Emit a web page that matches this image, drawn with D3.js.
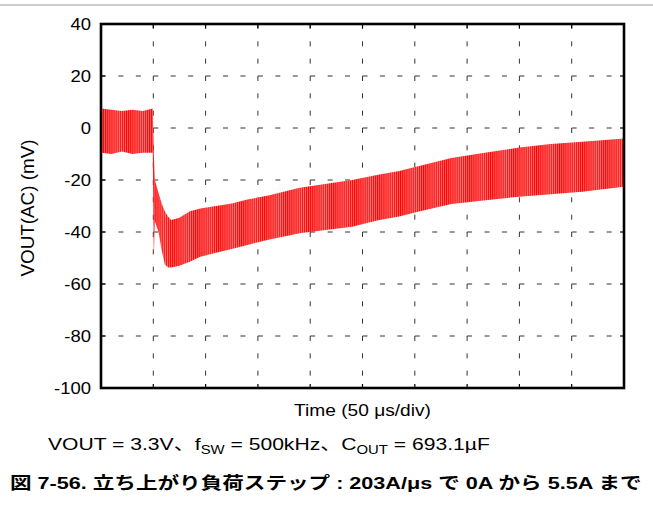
<!DOCTYPE html>
<html>
<head>
<meta charset="utf-8">
<script src="https://cdn.jsdelivr.net/npm/d3@7"></script>
<style>
  html, body { margin: 0; padding: 0; background: #fff; }
  svg { display: block; }
  text { font-family: "Liberation Sans", Arial, "Noto Sans CJK JP", sans-serif; fill: #000; }
</style>
</head>
<body>
<svg id="chart" width="653" height="508"></svg>
<script>
// ---- data ----
// time in microseconds (50 us/div, 10 divisions)
const timeUs = [0, 10, 20, 30, 40, 49.5, 50.5, 51.5, 55, 58, 61, 64, 67, 75, 85, 95, 110, 125, 140, 160, 190, 240, 265, 285, 305, 335, 370, 400, 430, 460, 500];
// upper envelope of the ripple (mV)
const upperMv = [7.5, 7, 6.5, 7, 6.5, 7.5, -10, -20, -25, -29, -32, -34, -35.4, -34.5, -32, -31, -30, -29, -27.5, -26, -23, -20, -18, -16.5, -14.5, -11.5, -9.3, -7.5, -6.2, -5.3, -4];
// lower envelope of the ripple (mV)
const lowerMv = [-9.5, -10, -9, -10, -9.5, -9.5, -50, -36, -40, -47, -52.5, -53.7, -53.7, -53, -51.4, -49.5, -48, -46.5, -45, -43, -40.5, -38, -35.5, -34, -32, -29.2, -27.7, -26.4, -25.5, -24.5, -22.6];
const switchPeriodUs = 2; // 500 kHz
const yTickValues = [40, 20, 0, -20, -40, -60, -80, -100];
const yTickLabels = ["40", "20", "0", "-20", "-40", "-60", "-80", "-100"];
const xTickValues = [0, 50, 100, 150, 200, 250, 300, 350, 400, 450, 500];
const yTitle = "VOUT(AC) (mV)";
const xTitle = "Time (50 \u03bcs/div)";
const figTitle = "図 7-56. 立ち上がり負荷ステップ : 203A/μs で 0A から 5.5A まで";

// ---- layout ----
const svg = d3.select("#chart");
const L = 101, R = 624, T = 24, B = 388;
const x = d3.scaleLinear().domain([0, 500]).range([L, R]);
const y = d3.scaleLinear().domain([-100, 40]).range([B, T]);

// top page rule
svg.append("line").attr("x1", 0).attr("x2", 653).attr("y1", 5).attr("y2", 5)
  .attr("stroke", "#9a9a9a").attr("stroke-width", 1.2);

// ripple pattern
const period = x(switchPeriodUs) - x(0);
const defs = svg.append("defs");
const pat = defs.append("pattern").attr("id", "ripple").attr("patternUnits", "userSpaceOnUse")
  .attr("x", L).attr("y", 0).attr("width", period).attr("height", 20);
pat.append("rect").attr("width", period).attr("height", 20).attr("fill", "#ff7878");
pat.append("rect").attr("width", period * 0.5).attr("height", 20).attr("fill", "#ff0000");
defs.append("clipPath").attr("id", "plotclip").append("rect")
  .attr("x", L).attr("y", T).attr("width", R - L).attr("height", B - T);

// grid
const grid = svg.append("g").attr("stroke", "#333").attr("stroke-width", 1);
const yGridVals = yTickValues.filter(v => v !== 40 && v !== -100);
grid.selectAll("line.h").data(yGridVals).join("line").attr("class", "h")
  .attr("x1", L).attr("x2", R).attr("y1", d => y(d)).attr("y2", d => y(d))
  .attr("stroke-dasharray", `5,${(x(50) - x(0)) / 3 - 5}`);
const xGridVals = xTickValues.filter(v => v !== 0 && v !== 500);
grid.selectAll("line.v").data(xGridVals).join("line").attr("class", "v")
  .attr("x1", d => x(d)).attr("x2", d => x(d)).attr("y1", T).attr("y2", B)
  .attr("stroke-dasharray", `5,${(y(20) - y(40)) / 3 - 5}`);

// inner ticks on frame
const tk = svg.append("g").attr("stroke", "#000").attr("stroke-width", 1.2);
tk.selectAll("line.bt").data(xTickValues).join("line")
  .attr("x1", d => x(d)).attr("x2", d => x(d)).attr("y1", B).attr("y2", B - 4);
tk.selectAll("line.tt").data(xTickValues).join("line")
  .attr("x1", d => x(d)).attr("x2", d => x(d)).attr("y1", T).attr("y2", T + 4);
tk.selectAll("line.lt").data(yTickValues).join("line")
  .attr("x1", L).attr("x2", L + 4).attr("y1", d => y(d)).attr("y2", d => y(d));
tk.selectAll("line.rt").data(yTickValues).join("line")
  .attr("x1", R).attr("x2", R - 4).attr("y1", d => y(d)).attr("y2", d => y(d));

// waveform band
const rows = timeUs.map((t, i) => ({ t, hi: upperMv[i], lo: lowerMv[i] }));
const area = d3.area().x(d => x(d.t)).y0(d => y(d.lo)).y1(d => y(d.hi));
svg.append("path").datum(rows).attr("d", area)
  .attr("fill", "url(#ripple)").attr("clip-path", "url(#plotclip)");

// frame
svg.append("rect").attr("x", L).attr("y", T).attr("width", R - L).attr("height", B - T)
  .attr("fill", "none").attr("stroke", "#000").attr("stroke-width", 2.6);

// y tick labels
const lab = svg.append("g");
lab.selectAll("g").data(yTickValues).join("g")
  .attr("transform", d => `translate(91,${y(d) + 6}) scale(1.12,1)`)
  .append("text").attr("text-anchor", "end").attr("font-size", 16.5)
  .text((d, i) => yTickLabels[i]);

// helper: stretch text horizontally to a target width
function fit(textSel, target) {
  const w = textSel.node().getComputedTextLength();
  return target / w;
}

// y title
const yt = svg.append("text").attr("font-size", 18).attr("text-anchor", "middle")
  .attr("transform", "translate(34,208) rotate(-90)").text(yTitle);
const ys = fit(yt, 137);
yt.attr("transform", `translate(34,208) rotate(-90) scale(${ys},1)`);

// x title
const xtG = svg.append("g");
const xt = xtG.append("text").attr("font-size", 16.5).attr("text-anchor", "middle").text(xTitle);
xtG.attr("transform", `translate(${(L + R) / 2},416) scale(${fit(xt, 137)},1)`);

// condition line
const cG = svg.append("g");
const ct = cG.append("text").attr("font-size", 17);
ct.append("tspan").text("VOUT = 3.3V\u3001f");
ct.append("tspan").attr("font-size", 12).attr("dy", 4).text("SW");
ct.append("tspan").attr("dy", -4).text(" = 500kHz\u3001C");
ct.append("tspan").attr("font-size", 12).attr("dy", 4).text("OUT");
ct.append("tspan").attr("dy", -4).text(" = 693.1µF");
cG.attr("transform", `translate(48,450) scale(${fit(ct, 442)},1)`);

// figure title
const tG = svg.append("g");
const tt = tG.append("text").attr("font-size", 17).attr("font-weight", "bold").text(figTitle);
tG.attr("transform", `translate(10,489) scale(${fit(tt, 632)},1)`);
</script>
</body>
</html>
